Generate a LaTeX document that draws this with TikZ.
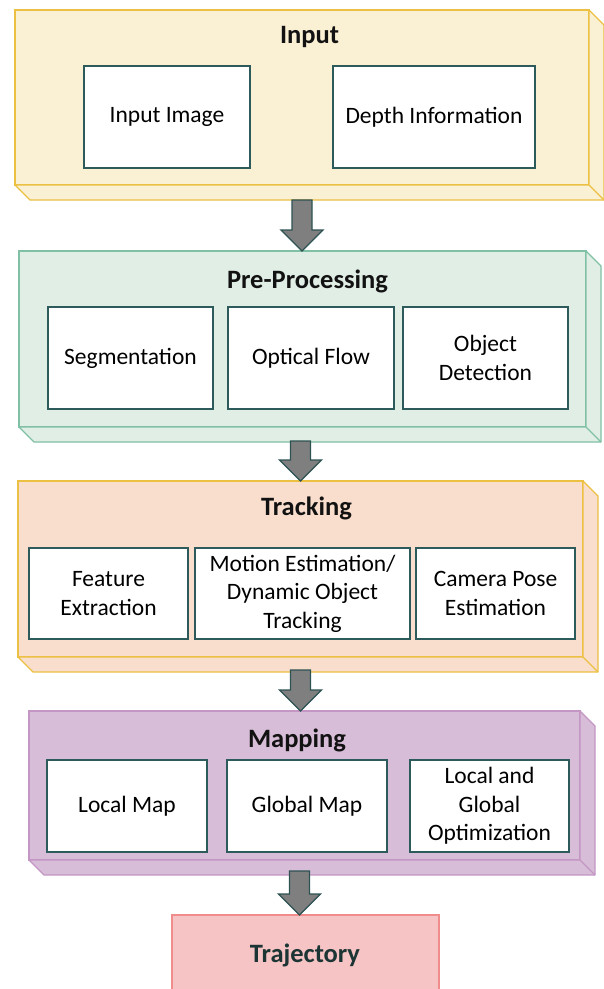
\documentclass[tikz,border=0pt]{standalone}
\usepackage{fontspec}
\setmainfont{Carlito}
\usetikzlibrary{calc}

\definecolor{inputfill}{RGB}{250,240,211}
\definecolor{inputline}{RGB}{236,192,66}
\definecolor{prefill}{RGB}{225,238,230}
\definecolor{preline}{RGB}{128,192,164}
\definecolor{trackfill}{RGB}{249,222,205}
\definecolor{trackline}{RGB}{236,192,66}
\definecolor{mapfill}{RGB}{216,189,216}
\definecolor{mapline}{RGB}{196,150,196}
\definecolor{trajfill}{RGB}{246,196,196}
\definecolor{trajline}{RGB}{240,140,140}
\definecolor{itemline}{RGB}{45,90,90}
\definecolor{arrowfill}{RGB}{127,127,127}
\definecolor{arrowline}{RGB}{45,82,82}
\definecolor{titletext}{RGB}{18,18,18}
\definecolor{trajtext}{RGB}{28,52,52}

\tikzset{
  stage/.style={rectangle, line width=1.3pt, inner sep=0pt, outer sep=0pt},
  item/.style={rectangle, draw=itemline, fill=white, line width=1.3pt,
    inner sep=0pt, outer sep=0pt, align=center,
    font=\fontsize{23.5}{28.5}\selectfont},
  heading/.style={anchor=base, inner sep=0pt, text=titletext,
    font=\fontsize{26.5}{30}\selectfont\bfseries},
  blockarrow/.style={draw=arrowline, fill=arrowfill, line width=1.3pt,
    line join=miter}
}

% depth faces (right and bottom) of a slab whose front face is node #1
\newcommand\slabsides[3]{%
  \filldraw[fill=#2, draw=#3, line width=1.3pt, line join=round]
    (#1.north east) -- ([shift={(15,15)}]#1.north east)
    -- ([shift={(15,15)}]#1.south east) -- ([shift={(15,15)}]#1.south west)
    -- (#1.south west) -- (#1.south east) -- cycle;
  \draw[draw=#3, line width=1.3pt] (#1.south east) -- ([shift={(15,15)}]#1.south east);
}

% thick downward block arrow from coordinate #1 to the point #2 below it
\newcommand\blockarrow[2]{%
  \path[blockarrow] let \p1=(#1), \p2=(#2) in
    (\x1-10pt,\y1) -- (\x1+10pt,\y1) -- (\x1+10pt,\y2+21pt)
    -- (\x1+21pt,\y2+21pt) -- (\x1,\y2) -- (\x1-21pt,\y2+21pt)
    -- (\x1-10pt,\y2+21pt) -- cycle;
}

\begin{document}
\begin{tikzpicture}[x=1pt, y=-1pt]
\useasboundingbox (0,0) rectangle (604,989);
\clip (0,0) rectangle (604,989);

% ---------- Input ----------
\node[stage, draw=inputline, fill=inputfill, minimum width=574, minimum height=175]
  (input) at (302,97.5) {};
\slabsides{input}{inputfill}{inputline}
\node[heading] (inputtitle) at (309.5,43) {Input};
\node[item, minimum width=166, minimum height=102] (image) at (167,117) {Input Image};
\node[item, minimum width=202, minimum height=102] (depth) at (434,117) {Depth Information};

% ---------- Pre-Processing ----------
\node[stage, draw=preline, fill=prefill, minimum width=567, minimum height=176]
  (pre) at (302.5,339) {};
\slabsides{pre}{prefill}{preline}
\node[heading] (pretitle) at (307.5,288) {Pre-Processing};
\node[item, minimum width=165, minimum height=102] (seg) at (130.5,358) {Segmentation};
\node[item, minimum width=166, minimum height=102] (flow) at (311,358) {Optical Flow};
\node[item, minimum width=165, minimum height=102] (objdet) at (485.5,358) {Object\\Detection};

% ---------- Tracking ----------
\node[stage, draw=trackline, fill=trackfill, minimum width=565, minimum height=176]
  (track) at (300.5,569) {};
\slabsides{track}{trackfill}{trackline}
\node[heading] (tracktitle) at (306.5,515) {Tracking};
\node[item, minimum width=159, minimum height=91] (feat) at (108.5,593.5) {Feature\\Extraction};
\node[item, minimum width=215, minimum height=91] (motion) at (302.5,593.5) {Motion Estimation/\\Dynamic Object\\Tracking};
\node[item, minimum width=159, minimum height=91] (campose) at (495.5,593.5) {Camera Pose\\Estimation};

% ---------- Mapping ----------
\node[stage, draw=mapline, fill=mapfill, minimum width=551, minimum height=149]
  (map) at (304.5,785.5) {};
\slabsides{map}{mapfill}{mapline}
\node[heading] (maptitle) at (297,747) {Mapping};
\node[item, minimum width=160, minimum height=92] (localmap) at (127,806) {Local Map};
\node[item, minimum width=160, minimum height=92] (globalmap) at (307,806) {Global Map};
\node[item, minimum width=159, minimum height=92] (optim) at (489.5,806) {Local and\\Global\\Optimization};

% ---------- Trajectory ----------
\node[stage, draw=trajline, fill=trajfill, minimum width=267, minimum height=90]
  (traj) at (305.5,960) {};
\node[heading, text=trajtext] (trajtitle) at (305,962) {Trajectory};

% ---------- arrows between the stages ----------
\coordinate (a1) at (302,200);
\coordinate (a2) at (300.5,441);
\coordinate (a3) at (300.5,670);
\coordinate (a4) at (299.5,871);
\blockarrow{a1}{a1 |- pre.north}
\blockarrow{a2}{a2 |- track.north}
\blockarrow{a3}{a3 |- map.north}
\blockarrow{a4}{a4 |- traj.north}
\end{tikzpicture}
\end{document}
